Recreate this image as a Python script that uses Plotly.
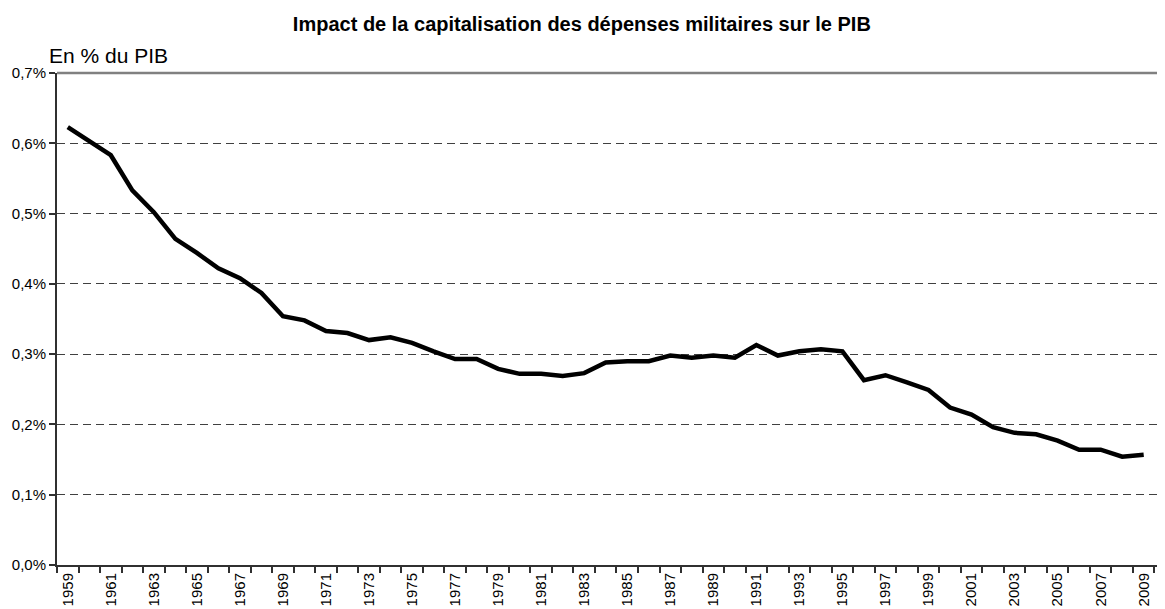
import plotly.graph_objects as go

years = list(range(1959, 2010))
values = [0.623, 0.603, 0.583, 0.533, 0.502, 0.464, 0.444, 0.422, 0.408, 0.387,
          0.354, 0.348, 0.333, 0.330, 0.320, 0.324, 0.316, 0.304, 0.293, 0.293,
          0.279, 0.272, 0.272, 0.269, 0.273, 0.288, 0.290, 0.290, 0.298, 0.295,
          0.298, 0.295, 0.313, 0.298, 0.304, 0.307, 0.304, 0.263, 0.270, 0.260,
          0.249, 0.224, 0.214, 0.196, 0.188, 0.186, 0.177, 0.164, 0.164, 0.154,
          0.157]
y_ticks = [0.0, 0.1, 0.2, 0.3, 0.4, 0.5, 0.6, 0.7]
y_labels = ["0,0%", "0,1%", "0,2%", "0,3%", "0,4%", "0,5%", "0,6%", "0,7%"]
x_ticks = years[::2]
x_labels = [str(y) for y in x_ticks]

fig = go.Figure()
fig.add_trace(go.Scatter(x=years, y=values, mode="lines",
                         line=dict(color="black", width=4.5), hoverinfo="skip"))

# page body has an 8px default margin, so the figure is drawn 8px smaller
fig.update_layout(
    width=1157, height=601,
    margin=dict(l=49, r=0, t=65, b=44, autoexpand=False),
    paper_bgcolor="white", plot_bgcolor="white",
    showlegend=False,
    font=dict(family="Liberation Sans, Arial, sans-serif", color="black", size=15),
    title=dict(text="<b>Impact de la capitalisation des dépenses militaires sur le PIB</b>",
               x=0.496, xref="container", xanchor="center",
               y=1 - 16 / 601, yref="container", yanchor="middle",
               font=dict(size=20, color="black")),
    xaxis=dict(range=[1958.5, 2009.99], tickvals=x_ticks, ticktext=x_labels,
               tickangle=-90, ticks="", showgrid=False, zeroline=False,
               automargin=False,
               showline=True, linecolor="#303030", linewidth=2,
               tickfont=dict(size=15),
               minor=dict(tick0=1958.5, dtick=1, ticks="outside", ticklen=6,
                          tickcolor="#303030", tickwidth=1.5, showgrid=False)),
    yaxis=dict(range=[0, 0.7], tickvals=y_ticks, ticktext=y_labels,
               ticks="outside", ticklen=6, tickcolor="#303030", tickwidth=1.5,
               showgrid=True, gridcolor="#404040", gridwidth=1, griddash="8px,5px",
               zeroline=False, showline=True, linecolor="#303030", linewidth=2,
               automargin=False,
               tickfont=dict(size=15)),
    shapes=[dict(type="line", xref="paper", yref="paper", x0=0, x1=1, y0=1, y1=1,
                 line=dict(color="#808080", width=2.5))],
    annotations=[dict(text="En % du PIB", xref="paper", yref="paper",
                      x=0, y=1.0, xanchor="left", yanchor="bottom",
                      xshift=-10, yshift=4,
                      showarrow=False, font=dict(size=21, color="black"))],
)

fig.write_html("out.html")
